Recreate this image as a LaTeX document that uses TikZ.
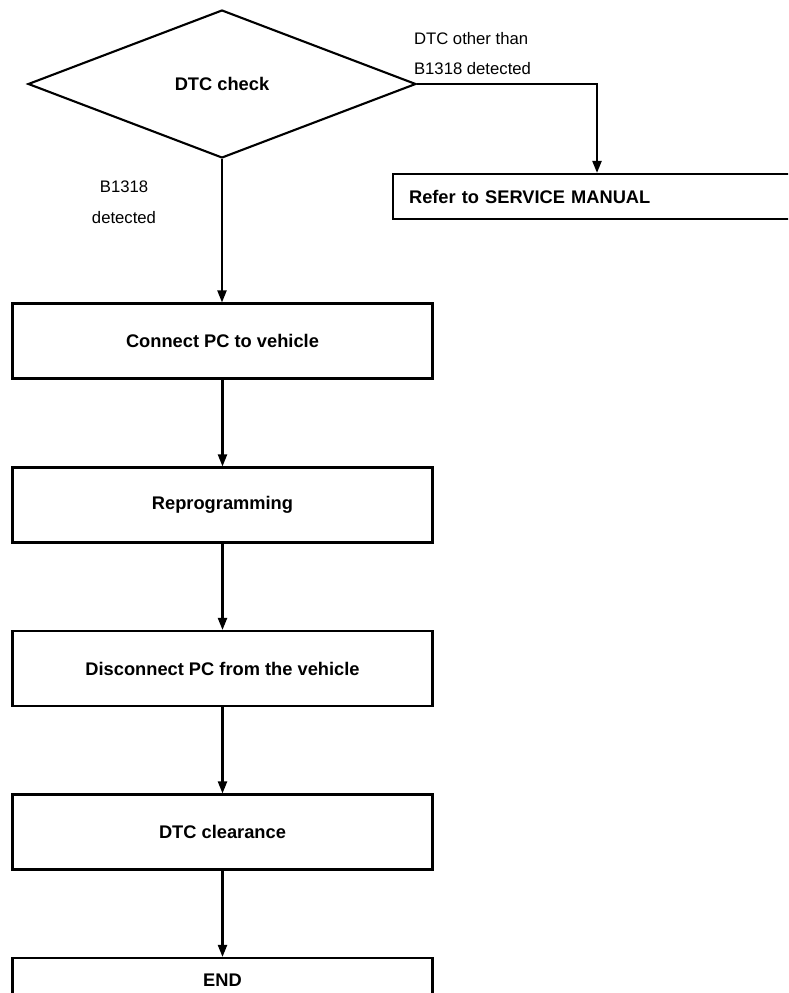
\documentclass[tikz,border=0pt]{standalone}
\usepackage{fontspec}
\setmainfont{Liberation Sans}
\usetikzlibrary{shapes.geometric,arrows.meta}

\begin{document}
\begin{tikzpicture}[x=0.02cm, y=-0.02cm, line width=1.2pt]
        \tikzstyle{stepbox}=[draw, rectangle, minimum width=8.4cm, minimum height=1.5cm, inner sep=0pt, font=\fontsize{10.4}{12}\selectfont\bfseries]
        \tikzstyle{decision}=[draw, diamond, minimum width=7.76cm, minimum height=2.96cm, inner sep=0pt, font=\fontsize{10.4}{12}\selectfont\bfseries]
        \tikzstyle{referbox}=[draw, rectangle, text width=7.76cm, inner xsep=0.32cm, minimum height=0.9cm, align=left, font=\fontsize{10.4}{12}\selectfont\bfseries]
        \tikzstyle{note}=[inner sep=0pt, font=\fontsize{9.5}{17.4}\selectfont]
        \tikzstyle{flow}=[-{Triangle[length=2.4mm,width=1.8mm]}]

        \path[use as bounding box, clip] (0,0) rectangle (788,993);

% Flow of the reprogramming procedure, top to bottom.

        \node[decision] (check) at (222,84) {DTC check};
        \node[referbox, anchor=west] (manual) at (392,196.5) {Refer to SERVICE MANUAL};
        \node[stepbox] (connect) at (222.5,341) {Connect PC to vehicle};
        \node[stepbox] (reprog) at (222.5,505) {Reprogramming};
        \node[stepbox] (disconnect) at (222.5,668.5) {Disconnect PC from the vehicle};
        \node[stepbox] (clear) at (222.5,832) {DTC clearance};
        \node[stepbox, minimum height=0.88cm] (end) at (222.5,980) {END};

        \node[note, anchor=north west, align=left] (other) at (413,31) {DTC other than\\B1318 detected};
        \node[note, anchor=north, align=center] (found) at (124,180) {B1318\\detected};

        \coordinate (turn) at (597,84);
        \draw[flow] (check.east) -- (turn) -- (turn |- manual.north);
        \draw[flow] (check.south) -- (check.south |- connect.north);
        \draw[flow] (connect) -- (reprog);
        \draw[flow] (reprog) -- (disconnect);
        \draw[flow] (disconnect) -- (clear);
        \draw[flow] (clear) -- (end);

    \end{tikzpicture}
\end{document}
